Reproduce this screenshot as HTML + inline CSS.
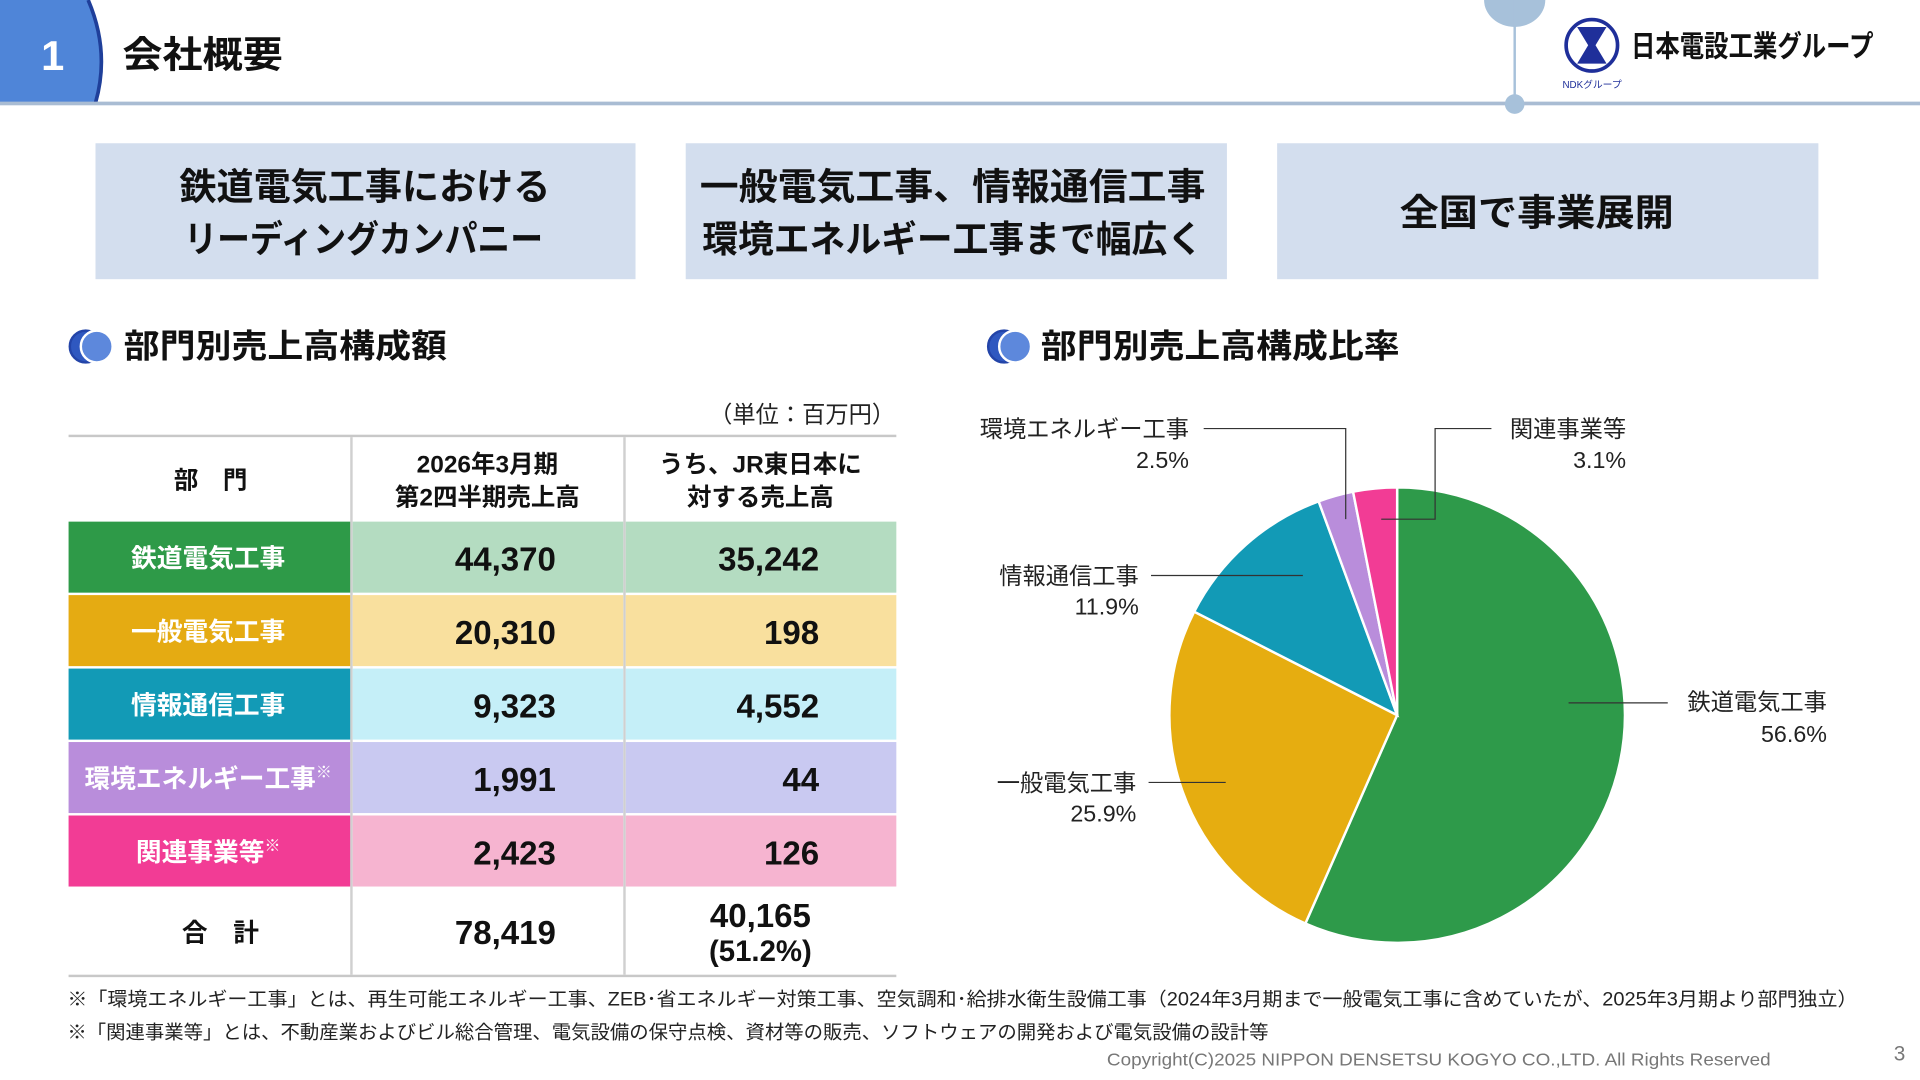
<!DOCTYPE html>
<html><head><meta charset="utf-8">
<style>
html,body{margin:0;padding:0;background:#fff;}
svg{display:block;}
text{font-family:"Liberation Sans","Noto Sans CJK JP",sans-serif;}
.b{font-weight:bold;}
</style></head>
<body>
<svg id="page" width="1920" height="1080" viewBox="0 0 1568 882" preserveAspectRatio="none" xmlns="http://www.w3.org/2000/svg">
  <g>
    <path d="M0 0 H72 Q90 42 78 84 H0 Z" fill="#4f85d8"/>
    <path d="M72 0 Q90 42 78 84" fill="none" stroke="#1f3f9a" stroke-width="3"/>
    <text x="43" y="57" text-anchor="middle" font-size="34" fill="#fff" class="b">1</text>
    <text x="100" y="55" font-size="30" fill="#111" class="b" textLength="131" lengthAdjust="spacingAndGlyphs">会社概要</text>
    <rect x="0" y="83" width="1568" height="3" fill="#a9bcd3"/>
    <ellipse cx="1237" cy="0" rx="25" ry="22" fill="#a7c1da"/>
    <rect x="1236" y="0" width="2" height="85" fill="#a7c1da"/>
    <circle cx="1237" cy="85" r="8" fill="#a7c1da"/>
    <g>
      <circle cx="1300" cy="37" r="21" fill="#fff" stroke="#1f2f9a" stroke-width="3"/>
      <path d="M1288 22 H1312 L1303 37 L1312 52 H1288 L1297 37 Z" fill="#1f2f9a"/>
      <text x="1332" y="46" font-size="24" fill="#111" class="b" textLength="198" lengthAdjust="spacingAndGlyphs">日本電設工業グループ</text>
      <text x="1276" y="72" font-size="8" fill="#1f2f9a">NDKグループ</text>
    </g>
  </g>

  <g>
    <rect x="78" y="117" width="441" height="111" fill="#d3deee"/>
    <text x="298" y="163" text-anchor="middle" font-size="30" class="b" fill="#111" textLength="303" lengthAdjust="spacingAndGlyphs">鉄道電気工事における</text>
    <text x="297" y="206" text-anchor="middle" font-size="30" class="b" fill="#111" textLength="293" lengthAdjust="spacingAndGlyphs">リーディングカンパニー</text>
    <rect x="560" y="117" width="442" height="111" fill="#d3deee"/>
    <text x="778" y="163" text-anchor="middle" font-size="30" class="b" fill="#111" textLength="413" lengthAdjust="spacingAndGlyphs">一般電気工事、情報通信工事</text>
    <text x="778" y="206" text-anchor="middle" font-size="30" class="b" fill="#111" textLength="409" lengthAdjust="spacingAndGlyphs">環境エネルギー工事まで幅広く</text>
    <rect x="1043" y="117" width="442" height="111" fill="#d3deee"/>
    <text x="1255" y="184" text-anchor="middle" font-size="30" class="b" fill="#111" textLength="224" lengthAdjust="spacingAndGlyphs">全国で事業展開</text>
  </g>

  <g>
    <circle cx="70" cy="283" r="13" fill="#2f58c0" stroke="#2344a8" stroke-width="2"/>
    <circle cx="79" cy="283" r="13" fill="#5d88dc" stroke="#fff" stroke-width="2"/>
    <text x="101" y="292" font-size="27" class="b" fill="#111" textLength="264" lengthAdjust="spacingAndGlyphs">部門別売上高構成額</text>
  </g>
  <g>
    <circle cx="820" cy="283" r="13" fill="#2f58c0" stroke="#2344a8" stroke-width="2"/>
    <circle cx="829" cy="283" r="13" fill="#5d88dc" stroke="#fff" stroke-width="2"/>
    <text x="850" y="292" font-size="27" class="b" fill="#111" textLength="293" lengthAdjust="spacingAndGlyphs">部門別売上高構成比率</text>
  </g>

  <text x="731" y="345" text-anchor="end" font-size="19" fill="#222">（単位：百万円）</text>

  <g id="tbl">
    <rect x="56" y="355" width="676" height="2" fill="#c8c8c8"/>
    <rect x="56" y="796" width="676" height="2" fill="#c8c8c8"/>
    <rect x="286" y="357" width="2" height="439" fill="#d0d0d0"/>
    <rect x="509" y="357" width="2" height="439" fill="#d0d0d0"/>
    <text x="172" y="399" text-anchor="middle" font-size="20" class="b" fill="#111">部　門</text>
    <text x="398" y="386" text-anchor="middle" font-size="20" class="b" fill="#111">2026年3月期</text>
    <text x="398" y="413" text-anchor="middle" font-size="20" class="b" fill="#111">第2四半期売上高</text>
    <text x="621" y="386" text-anchor="middle" font-size="20" class="b" fill="#111">うち、JR東日本に</text>
    <text x="621" y="413" text-anchor="middle" font-size="20" class="b" fill="#111">対する売上高</text>
    <text x="180" y="769" text-anchor="middle" font-size="21" class="b" fill="#111">合　計</text>
    <text x="454" y="771" text-anchor="end" font-size="27" class="b" fill="#111">78,419</text>
    <text x="621" y="757" text-anchor="middle" font-size="27" class="b" fill="#111">40,165</text>
    <text x="621" y="785" text-anchor="middle" font-size="24" class="b" fill="#111">(51.2%)</text>
  </g>

  <g id="pie"></g>
  <g font-size="19" fill="#222">
    <text x="971" y="357" text-anchor="end">環境エネルギー工事</text>
    <text x="971" y="382" text-anchor="end">2.5%</text>
    <path d="M983 350 H1099 V424" fill="none" stroke="#333" stroke-width="1"/>
    <text x="1328" y="357" text-anchor="end">関連事業等</text>
    <text x="1328" y="382" text-anchor="end">3.1%</text>
    <path d="M1218 350 H1172 V424 H1128" fill="none" stroke="#333" stroke-width="1"/>
    <text x="930" y="477" text-anchor="end">情報通信工事</text>
    <text x="930" y="502" text-anchor="end">11.9%</text>
    <path d="M940 470 H1064" stroke="#333" stroke-width="1"/>
    <text x="1492" y="580" text-anchor="end">鉄道電気工事</text>
    <text x="1492" y="606" text-anchor="end">56.6%</text>
    <path d="M1362 574 H1281" stroke="#333" stroke-width="1"/>
    <text x="928" y="646" text-anchor="end">一般電気工事</text>
    <text x="928" y="671" text-anchor="end">25.9%</text>
    <path d="M938 639 H1001" stroke="#333" stroke-width="1"/>
  </g>

  <g font-size="15.5" fill="#222">
    <text x="55" y="821" textLength="1462" lengthAdjust="spacingAndGlyphs">※「環境エネルギー工事」とは、再生可能エネルギー工事、ZEB･省エネルギー対策工事、空気調和･給排水衛生設備工事（2024年3月期まで一般電気工事に含めていたが、2025年3月期より部門独立）</text>
    <text x="55" y="848" textLength="981" lengthAdjust="spacingAndGlyphs">※「関連事業等」とは、不動産業およびビル総合管理、電気設備の保守点検、資材等の販売、ソフトウェアの開発および電気設備の設計等</text>
  </g>
  <text x="904" y="870" font-size="14.5" fill="#777" textLength="542" lengthAdjust="spacingAndGlyphs">Copyright(C)2025 NIPPON DENSETSU KOGYO CO.,LTD. All Rights Reserved</text>
  <text x="1556" y="866" text-anchor="end" font-size="17" fill="#777">3</text>
</svg>
<script>
const segments = ["鉄道電気工事","一般電気工事","情報通信工事","環境エネルギー工事","関連事業等"];
const segmentNotes = ["","","","※","※"];
const salesValues = [44370, 20310, 9323, 1991, 2423];
const jrValues = [35242, 198, 4552, 44, 126];
const sharePercents = [56.6, 25.9, 11.9, 2.5, 3.1];
const labelColors = ["#2e9a48","#e5ab12","#129ab6","#b98ddb","#f23c95"];
const cellColors = ["#b4dcc1","#f9e09e","#c5eff8","#c9c9f1","#f6b4d0"];
const pieColors = ["#2e9a4a","#e6ad10","#129ab6","#b98ddb","#f23c95"];

const NS = "http://www.w3.org/2000/svg";
function mk(tag, attrs, parent){const e=document.createElementNS(NS,tag);for(const k in attrs)e.setAttribute(k,attrs[k]);parent.appendChild(e);return e;}
const fmt = v => v.toLocaleString("en-US");

const tbl = document.getElementById("tbl");
const rowTop = 426, rowH = 60;
segments.forEach((s,i)=>{
  const y = rowTop + i*rowH;
  const c1 = mk("rect",{x:56,y:y,width:230,height:rowH-2,fill:labelColors[i]},tbl);
  
  
  const c2 = mk("rect",{x:288,y:y,width:221,height:rowH-2,fill:cellColors[i]},tbl);
  
  
  const c3 = mk("rect",{x:511,y:y,width:221,height:rowH-2,fill:cellColors[i]},tbl);
  
  
  const t = mk("text",{x:170,y:y+37,"text-anchor":"middle","font-size":21,"font-weight":"bold",fill:"#fff"},tbl);
  t.textContent = s;
  if(segmentNotes[i]){const ts=mk("tspan",{"font-size":13,dy:-8},t);ts.textContent=segmentNotes[i];}
  
  
  const v1 = mk("text",{x:454,y:y+40,"text-anchor":"end","font-size":27,"font-weight":"bold",fill:"#111"},tbl);
  v1.textContent = fmt(salesValues[i]);
  
  
  const v2 = mk("text",{x:669,y:y+40,"text-anchor":"end","font-size":27,"font-weight":"bold",fill:"#111"},tbl);
  v2.textContent = fmt(jrValues[i]);
  
  
});

const pie = document.getElementById("pie");
const cx = 1141, cy = 584, r = 186;
const total = sharePercents.reduce((a,b)=>a+b,0);
function pt(a){return [cx + r*Math.sin(a), cy - r*Math.cos(a)];}
let acc = 0;
sharePercents.forEach((v,i)=>{
  const a0 = acc/total*2*Math.PI; acc += v;
  const a1 = acc/total*2*Math.PI;
  const p0 = pt(a0), p1 = pt(a1);
  const large = (a1-a0) > Math.PI ? 1 : 0;
  const p = mk("path",{d:`M${cx} ${cy} L${p0[0]} ${p0[1]} A${r} ${r} 0 ${large} 1 ${p1[0]} ${p1[1]} Z`,fill:pieColors[i],stroke:"#fff","stroke-width":2},pie);
  
  
});
</script>
</body></html>
